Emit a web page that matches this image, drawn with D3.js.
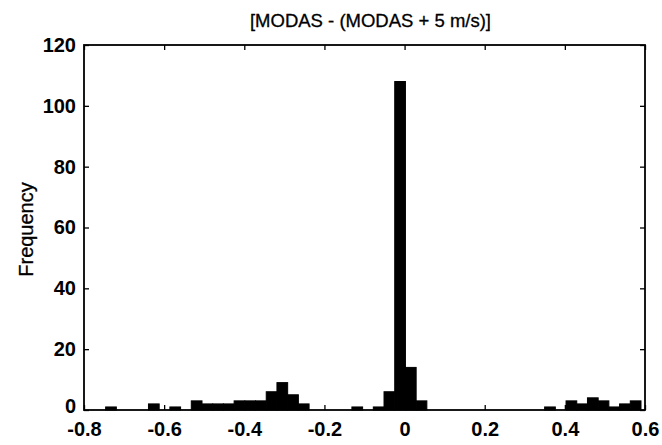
<!DOCTYPE html>
<html>
<head>
<meta charset="utf-8">
<script src="https://cdn.jsdelivr.net/npm/d3@7"></script>
<style>
  html, body { margin: 0; padding: 0; background: #fff; }
  svg { display: block; }
  text { font-family: "Liberation Sans", Arial, sans-serif; fill: #000; }
</style>
</head>
<body>
<svg id="chart" width="662" height="445"></svg>
<script>
// ---- data ----
const title = "[MODAS - (MODAS + 5 m/s)]";
const yLabel = "Frequency";
const histMin = -0.746;
const histMax = 0.59;
const counts = [
  1, 0, 0, 0, 2, 0, 1, 0, 3, 2,
  2, 2, 3, 3, 3, 6, 9, 5, 2, 0,
  0, 0, 0, 1, 0, 1, 6, 108, 14, 3,
  0, 0, 0, 0, 0, 0, 0, 0, 0, 0,
  0, 1, 0, 3, 2, 4, 3, 1, 2, 3
];
const xTicks = [-0.8, -0.6, -0.4, -0.2, 0, 0.2, 0.4, 0.6];
const yTicks = [0, 20, 40, 60, 80, 100, 120];

// ---- layout ----
const svg = d3.select("#chart");
const mLeft = 84, mRight = 645, mTop = 45, mBottom = 410;

const x = d3.scaleLinear().domain([-0.8, 0.6]).range([mLeft, mRight]);
const y = d3.scaleLinear().domain([0, 120]).range([mBottom, mTop]);

const binW = (histMax - histMin) / counts.length;
const bins = counts.map((c, i) => ({ x0: histMin + i * binW, x1: histMin + (i + 1) * binW, c }));

// bars
svg.append("g").selectAll("rect").data(bins.filter(d => d.c > 0)).join("rect")
  .attr("x", d => x(d.x0))
  .attr("y", d => y(d.c))
  .attr("width", d => x(d.x1) - x(d.x0))
  .attr("height", d => y(0) - y(d.c))
  .attr("fill", "#000")
  .attr("stroke", "#000")
  .attr("stroke-width", 1);

// frame
svg.append("rect")
  .attr("x", mLeft).attr("y", mTop)
  .attr("width", mRight - mLeft).attr("height", mBottom - mTop)
  .attr("fill", "none").attr("stroke", "#000").attr("stroke-width", 1.8);

const tickLen = 5;
const fontFam = "Liberation Sans, Arial, sans-serif";

// bottom axis (ticks inward)
const xb = svg.append("g").attr("transform", `translate(0,${mBottom})`)
  .call(d3.axisBottom(x).tickValues(xTicks).tickSize(-tickLen).tickPadding(tickLen + 7)
    .tickFormat(d => String(d)));
xb.select(".domain").remove();
xb.selectAll("line").attr("stroke", "#000").attr("stroke-width", 1.3);
xb.selectAll("text").attr("font-size", 20).attr("font-weight", "bold").attr("fill", "#000").attr("font-family", fontFam);

// top axis ticks
const xt = svg.append("g").attr("transform", `translate(0,${mTop})`)
  .call(d3.axisTop(x).tickValues(xTicks).tickSize(-tickLen).tickFormat(""));
xt.select(".domain").remove();
xt.selectAll("line").attr("stroke", "#000").attr("stroke-width", 1.3);

// left axis
const yl = svg.append("g").attr("transform", `translate(${mLeft},0)`)
  .call(d3.axisLeft(y).tickValues(yTicks).tickSize(-tickLen).tickPadding(tickLen + 3));
yl.select(".domain").remove();
yl.selectAll("line").attr("stroke", "#000").attr("stroke-width", 1.3);
yl.selectAll("text").attr("font-size", 20).attr("font-weight", "bold").attr("fill", "#000").attr("font-family", fontFam)
  .attr("dy", d => d === 0 ? "0.12em" : "0.32em");

// right axis ticks
const yr = svg.append("g").attr("transform", `translate(${mRight},0)`)
  .call(d3.axisRight(y).tickValues(yTicks).tickSize(-tickLen).tickFormat(""));
yr.select(".domain").remove();
yr.selectAll("line").attr("stroke", "#000").attr("stroke-width", 1.3);

// title
svg.append("text")
  .attr("x", (mLeft + mRight) / 2 + 6).attr("y", 27)
  .attr("text-anchor", "middle")
  .attr("font-size", 18.5)
  .attr("stroke", "#000").attr("stroke-width", 0.3)
  .text(title);

// y label
svg.append("text")
  .attr("transform", `translate(33,${(mTop + mBottom) / 2 + 2}) rotate(-90)`)
  .attr("text-anchor", "middle")
  .attr("font-size", 20)
  .attr("stroke", "#000").attr("stroke-width", 0.3)
  .text(yLabel);
</script>
</body>
</html>
